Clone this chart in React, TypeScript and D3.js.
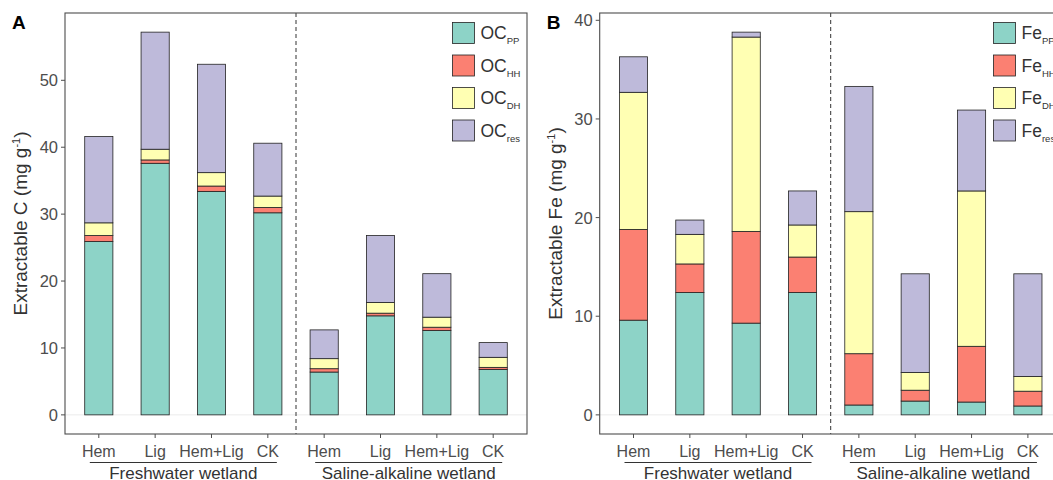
import React from "react";
import * as d3 from "d3";

// treatments within each wetland type
const treatments = ["Hem", "Lig", "Hem+Lig", "CK"];
const wetlands = ["Freshwater wetland", "Saline-alkaline wetland"];

const fractionKeys = ["pp", "hh", "dh", "res"];
const fractionSubs = ["PP", "HH", "DH", "res"];
const fractionColors = ["#8DD3C7", "#FB8072", "#FFFFB3", "#BEBADA"];

// panel A: extractable C (mg g-1), freshwater x4 then saline-alkaline x4
const cPP = [25.9, 37.6, 33.4, 30.2, 6.4, 14.8, 12.6, 6.8];
const cHH = [0.9, 0.5, 0.8, 0.8, 0.5, 0.4, 0.5, 0.3];
const cDH = [1.9, 1.6, 2.0, 1.7, 1.5, 1.6, 1.5, 1.5];
const cRes = [12.9, 17.5, 16.2, 7.9, 4.3, 10.0, 6.5, 2.2];

// panel B: extractable Fe (mg g-1)
const fePP = [9.6, 12.4, 9.3, 12.4, 1.0, 1.4, 1.3, 0.9];
const feHH = [9.2, 2.9, 9.3, 3.6, 5.2, 1.1, 5.65, 1.5];
const feDH = [13.9, 3.0, 19.7, 3.25, 14.4, 1.8, 15.75, 1.5];
const feRes = [3.6, 1.45, 0.5, 3.45, 12.7, 10.0, 8.2, 10.4];

const yTicksC = [0, 10, 20, 30, 40, 50];
const yTicksFe = [0, 10, 20, 30, 40];

const FONT = "'Liberation Sans', Arial, Helvetica, sans-serif";
const W = 1053;
const H = 480;

type PanelProps = {
  letter: string;
  left: number;
  element: string;
  series: number[][];
  yTicks: number[];
};

const Panel = ({ letter, left, element, series, yTicks }: PanelProps) => {
  const plotW = 462;
  const top = 13;
  const bottom = 434;

  const cats: string[] = [];
  wetlands.forEach((w) => treatments.forEach((t) => cats.push(w + "|" + t)));

  const rows = cats.map((c, i) => {
    const r: any = { cat: c };
    fractionKeys.forEach((k, j) => (r[k] = series[j][i]));
    return r;
  });

  const stacked = d3.stack().keys(fractionKeys)(rows);
  const maxTotal = d3.max(rows, (r: any) => r.pp + r.hh + r.dh + r.res) as number;

  // ggplot-like 5% expansion
  const y = d3
    .scaleLinear()
    .domain([-0.05 * maxTotal, 1.05 * maxTotal])
    .range([bottom, top]);

  const x = d3
    .scaleBand()
    .domain(cats)
    .range([left, left + plotW])
    .paddingInner(0.5)
    .paddingOuter(0.35);

  const bw = x.bandwidth();
  const cx = (c: string) => (x(c) as number) + bw / 2;
  const divX = (cx(cats[3]) + cx(cats[4])) / 2;

  const legendX = letter === "A" ? 452.5 : 993.5;

  return (
    <g>
      <text x={left - 53} y={29} fontSize={19} fontWeight="bold" fill="#000">
        {letter}
      </text>

      {/* zero line */}
      <line x1={left} x2={left + plotW} y1={y(0)} y2={y(0)} stroke="#ebebeb" strokeWidth={1} />

      {stacked.map((layer, li) =>
        layer.map((d: any, i) => (
          <rect
            key={layer.key + i}
            x={x(d.data.cat)}
            y={y(d[1])}
            width={bw}
            height={Math.max(0, y(d[0]) - y(d[1]))}
            fill={fractionColors[li]}
            stroke="#222"
            strokeWidth={0.8}
          />
        ))
      )}

      <line
        x1={divX}
        x2={divX}
        y1={top}
        y2={bottom}
        stroke="#333"
        strokeWidth={1}
        strokeDasharray="4,3"
      />

      <rect
        x={left}
        y={top}
        width={plotW}
        height={bottom - top}
        fill="none"
        stroke="#4d4d4d"
        strokeWidth={1.1}
      />

      {/* y axis */}
      {yTicks.map((t) => (
        <g key={t}>
          <line x1={left - 4} x2={left} y1={y(t)} y2={y(t)} stroke="#4d4d4d" strokeWidth={1} />
          <text
            x={left - 7}
            y={y(t)}
            dy="0.36em"
            textAnchor="end"
            fontSize={16.5}
            fill="#4d4d4d"
          >
            {t}
          </text>
        </g>
      ))}
      <text
        transform={`translate(${left - 38},${(top + bottom) / 2}) rotate(-90)`}
        textAnchor="middle"
        fontSize={19}
        fill="#333"
      >
        {"Extractable " + element + " (mg g"}
        <tspan dy={-7} fontSize={11}>
          -1
        </tspan>
        <tspan dy={7}>)</tspan>
      </text>

      {/* x axis */}
      {cats.map((c) => (
        <g key={c}>
          <line x1={cx(c)} x2={cx(c)} y1={bottom} y2={bottom + 4} stroke="#4d4d4d" strokeWidth={1} />
          <text x={cx(c)} y={456.5} textAnchor="middle" fontSize={16} fill="#4d4d4d">
            {c.split("|")[1]}
          </text>
        </g>
      ))}
      {wetlands.map((w, wi) => {
        const x1 = cx(cats[wi * 4]) - 9;
        const x2 = cx(cats[wi * 4 + 3]) + 9;
        return (
          <g key={w}>
            <line x1={x1} x2={x2} y1={462.5} y2={462.5} stroke="#333" strokeWidth={1} />
            <text x={(x1 + x2) / 2} y={479} textAnchor="middle" fontSize={17} fill="#333">
              {w}
            </text>
          </g>
        );
      })}

      {/* legend */}
      {fractionKeys.map((k, i) => (
        <g key={k} transform={`translate(${legendX},${22.5 + i * 32.5})`}>
          <rect width={22} height={21} fill={fractionColors[i]} stroke="#222" strokeWidth={0.8} />
          <text x={28} y={16.5} fontSize={17.5} fill="#333">
            {element === "C" ? "OC" : "Fe"}
            <tspan dy={5} fontSize={9.5}>
              {fractionSubs[i]}
            </tspan>
          </text>
        </g>
      ))}
    </g>
  );
};

export default function App() {
  return (
    <div style={{ position: "absolute", left: 0, top: 0, width: W, height: H, overflow: "hidden", background: "#fff" }}>
      <svg width={W} height={H} style={{ display: "block", fontFamily: FONT }}>
        <rect width={W} height={H} fill="#fff" />
        <Panel letter="A" left={65} element="C" series={[cPP, cHH, cDH, cRes]} yTicks={yTicksC} />
        <Panel letter="B" left={599.7} element="Fe" series={[fePP, feHH, feDH, feRes]} yTicks={yTicksFe} />
      </svg>
    </div>
  );
}
